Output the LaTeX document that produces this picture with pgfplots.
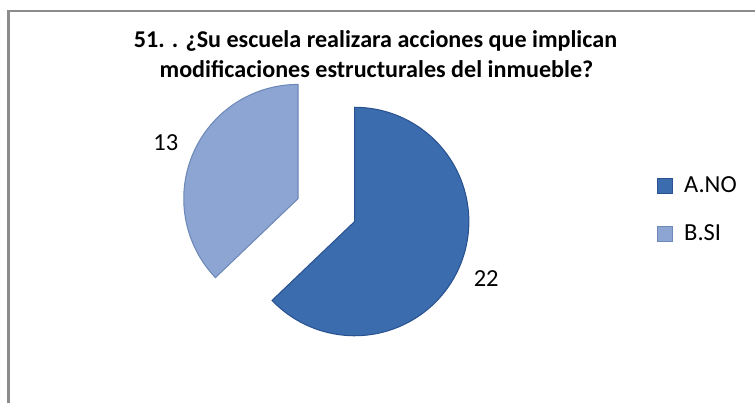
\documentclass[border=0pt]{standalone}
\usepackage{pgfplots}
\pgfplotsset{compat=1.18}
\usepackage{pgfplotstable}
\usepackage{fontspec}
\setmainfont{Carlito}
\definecolor{colA}{HTML}{3A6CAE}
\definecolor{colAd}{HTML}{2A5290}
\definecolor{colB}{HTML}{8CA5D3}
\definecolor{colBd}{HTML}{6E88B8}
\definecolor{frame}{HTML}{8C8C8C}
\pgfplotstableread{
label value
A.NO 22
B.SI 13
}\piedata
\pgfplotstablegetelem{0}{value}\of\piedata \let\valA\pgfplotsretval
\pgfplotstablegetelem{1}{value}\of\piedata \let\valB\pgfplotsretval
\pgfmathsetmacro\startA{90-360*\valA/(\valA+\valB)}
\pgfmathsetmacro\endB{90+360*\valB/(\valA+\valB)}
\begin{document}
\begin{tikzpicture}
\begin{axis}[
  scale only axis, width=567pt, height=300.75pt,
  xmin=0, xmax=756, ymin=0, ymax=401,
  hide axis, clip=false,
  legend style={at={(axis cs:657,190)}, anchor=west, draw=none, fill=none,
    font=\fontsize{18.5}{21}\selectfont, row sep=18.5pt,
    /tikz/every odd column/.append style={column sep=7pt}},
  legend cell align=left,
  legend image code/.code={\draw[#1] (0pt,-5.6pt) rectangle (11.25pt,5.6pt);},
]
% bounding box
\addplot[draw=none, forget plot] coordinates {(0,0) (756,401)};
% frame (only left and top edges visible)
\addplot[draw=frame, line width=1.6pt, forget plot] coordinates {(8.5,-5) (8.5,389.5) (760,389.5)};
% slices
\addplot[fill=colA, draw=colAd, line width=0.8pt, domain=\startA:90, samples=90, forget plot]
  ({357+115*cos(x)},{178+115*sin(x)}) -- (axis cs:357,178) -- cycle;
\addplot[fill=colB, draw=colBd, line width=0.8pt, domain=90:\endB, samples=60, forget plot]
  ({300+115*cos(x)},{201+115*sin(x)}) -- (axis cs:300,201) -- cycle;
\addlegendimage{fill=colA, draw=colAd}
\addlegendentry{A.NO}
\addlegendimage{fill=colB, draw=colBd}
\addlegendentry{B.SI}
% data labels
\node[font=\fontsize{18.5}{21}\selectfont] at (axis cs:167,257) {\valB};
\node[font=\fontsize{18.5}{21}\selectfont] at (axis cs:489.5,120.5) {\valA};
% title
\node[font=\fontsize{18.2}{21}\bfseries\selectfont, anchor=base] at (axis cs:378,353) {51. . ¿Su escuela realizara acciones que implican};
\node[font=\fontsize{18.2}{21}\bfseries\selectfont, anchor=base] at (axis cs:379,323) {modificaciones estructurales del inmueble?};
\end{axis}
\end{tikzpicture}
\end{document}
